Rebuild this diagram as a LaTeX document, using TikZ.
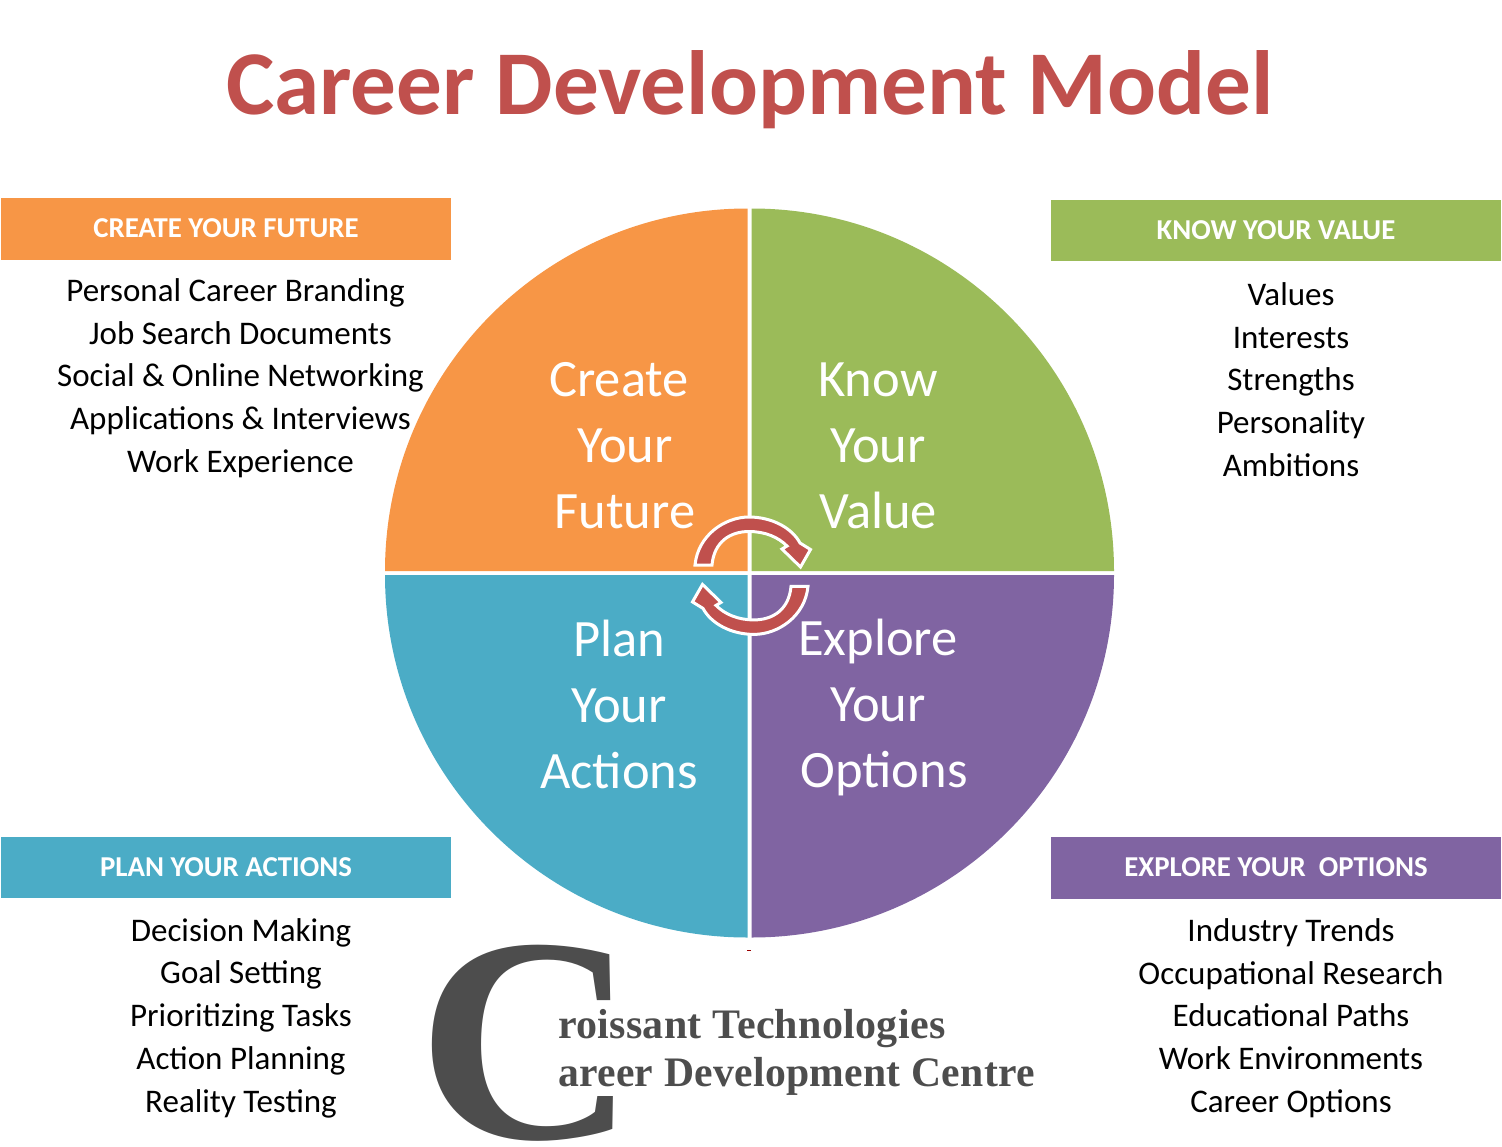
\documentclass[tikz,border=0pt]{standalone}
\usepackage{fontspec}
\setmainfont{Carlito}
\newfontfamily\logofont[LetterSpace=0.7]{Liberation Serif}
\newfontfamily\bigcfont{Liberation Serif}
\definecolor{titlered}{RGB}{192,80,77}
\definecolor{createorange}{RGB}{247,150,70}
\definecolor{knowgreen}{RGB}{155,187,89}
\definecolor{planblue}{RGB}{75,172,198}
\definecolor{explorepurple}{RGB}{128,100,162}
\definecolor{logogray}{RGB}{77,77,77}
\begin{document}
\begin{tikzpicture}[
  x=1pt, y=-1pt,
  banner/.style={minimum width=450pt, inner sep=0pt, font=\fontsize{28.8}{30}\selectfont\bfseries, text=white},
  items/.style={align=center, inner sep=0pt, font=\fontsize{33}{42.8}\selectfont},
  quad/.style={align=center, inner sep=0pt, text=white, font=\fontsize{52.5}{66}\selectfont},
  logoline/.style={anchor=base west, inner sep=0pt, text=logogray, font=\fontsize{42}{44}\selectfont\bfseries\logofont},
  cyclearrow/.style={fill=titlered, draw=white, line width=3pt, line join=miter}
]
  \useasboundingbox (0,0) rectangle (1502,1146);
  % title
  \node[inner sep=0pt, text=titlered, font=\fontsize{91.2}{96}\selectfont\bfseries] (title) at (750,90) {Career Development Model};
  % circle
  \fill[createorange] (747.5,571) -- (385,571) arc (180:270:362.5) -- cycle;
  \fill[knowgreen] (751.5,571) -- (1114,571) arc (0:-90:362.5) -- cycle;
  \fill[planblue] (747.5,575) -- (385,575) arc (180:90:362.5) -- cycle;
  \fill[explorepurple] (751.5,575) -- (1114,575) arc (0:90:362.5) -- cycle;
  \fill[red!60!black] (747,950) rectangle (751,951);
  % quadrant labels
  \node[quad] (create) at (625,446) {Create\hspace*{12pt}\\Your\\Future};
  \node[quad] (know) at (878,446) {Know\\Your\\Value};
  \node[quad] (plan) at (619,704) {Plan\\Your\\Actions};
  \node[quad] (explore) at (884,707) {\mbox{Explore\hspace{12pt}}\\\mbox{Your\hspace{12pt}}\\Options};
  % cycle arrows
  \path[cyclearrow] (695,565) .. controls (698,535) and (725,517) .. (749,517) .. controls (772,517) and (792,528) .. (800,543) -- (810.5,549.5) -- (800.5,567) -- (782,549) -- (787,546) .. controls (778,537) and (765,531.5) .. (749,531.5) .. controls (730,531.5) and (714,542) .. (712,565) -- cycle;
  \begin{scope}[rotate around={180:(751.5,575.7)}]
    \path[cyclearrow] (695,565) .. controls (698,535) and (725,517) .. (749,517) .. controls (772,517) and (792,528) .. (800,543) -- (810.5,549.5) -- (800.5,567) -- (782,549) -- (787,546) .. controls (778,537) and (765,531.5) .. (749,531.5) .. controls (730,531.5) and (714,542) .. (712,565) -- cycle;
  \end{scope}
  % side panels
  \node[banner, fill=createorange, minimum height=62pt] (createhead) at (226,229) {\raisebox{1pt}{CREATE YOUR FUTURE}};
  \node[banner, fill=knowgreen, minimum height=61pt] (knowhead) at (1276,230.5) {\raisebox{1pt}{KNOW YOUR VALUE}};
  \node[banner, fill=planblue, minimum height=61pt] (planhead) at (226,867.5) {PLAN YOUR ACTIONS};
  \node[banner, fill=explorepurple, minimum height=62pt] (explorehead) at (1276,868) {\raisebox{1pt}{EXPLORE YOUR\ \ OPTIONS}};
  \node[items] (createlist) at (240.5,378) {Personal Career Branding\hspace*{10pt}\\Job Search Documents\\Social \& Online Networking\\Applications \& Interviews\\Work Experience};
  \node[items] (knowlist) at (1291,379.5) {Values\\Interests\\Strengths\\Personality\\Ambitions};
  \node[items] (planlist) at (241,1018) {Decision Making\\Goal Setting\\Prioritizing Tasks\\Action Planning\\Reality Testing};
  \node[items] (explorelist) at (1291,1018) {Industry Trends\\Occupational Research\\Educational Paths\\Work Environments\\Career Options};
  % logo
  \node[anchor=base west, inner sep=0pt, xscale=1.04, transform shape, text=logogray, font=\fontsize{292}{292}\selectfont\bfseries\bigcfont] (bigc) at (417,1138) {C};
  \fill[white] (545,1008) rectangle (640,1096);
  \node[logoline] (logoa) at (558,1038) {roissant Technologies};
  \node[logoline, xscale=0.992, transform shape] (logob) at (558,1086) {areer Development Centre};
\end{tikzpicture}
\end{document}
